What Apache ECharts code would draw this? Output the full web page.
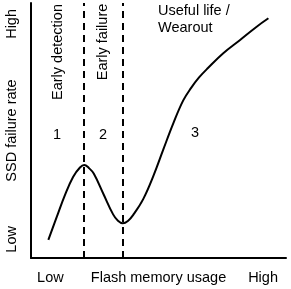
<!DOCTYPE html>
<html>
<head>
<meta charset="utf-8">
<script src="https://cdn.jsdelivr.net/npm/echarts@6/dist/echarts.min.js"></script>
<style>
html,body{margin:0;padding:0;background:#fff;}
#chart{width:291px;height:289px;}
</style>
</head>
<body>
<div id="chart"></div>
<script>
// Data (normalised 0-100 on both axes)
const usage = [6.8, 10.1, 13.3, 16.5, 19.2, 20.9, 22.7, 24.6, 28.4, 32.2, 34.1, 36.0, 38.0, 40.1, 44.0, 48.0, 51.9, 55.8, 59.7, 62.8, 65.9, 69.4, 75.4, 82.0, 88.5, 93.1];
const failureRate = [7.1, 16.1, 24.7, 31.8, 35.5, 36.5, 35.3, 33.1, 25.1, 17.1, 14.6, 13.6, 14.5, 16.9, 23.1, 32.2, 42.6, 52.8, 61.8, 66.7, 70.8, 74.5, 80.3, 85.5, 90.7, 94.0];
const phaseBoundaries = [20.5, 36.0];
const xTickValues = [7.6, 91];
const xTickLabels = ['Low', 'High'];
const yTickValues = [7.3, 91.8];
const yTickLabels = ['Low', 'High'];
const xAxisTitle = 'Flash memory usage';
const yAxisTitle = 'SSD failure rate';
const phaseTitles = ['Early detection', 'Early failure', 'Useful life /\nWearout'];
const phaseNumbers = ['1', '2', '3'];

const FONT = '"Liberation Sans", Arial, Helvetica, sans-serif';
const FS = 14.5;

function pick(vals, labels, v) {
  for (let i = 0; i < vals.length; i++) if (Math.abs(vals[i] - v) < 1e-6) return labels[i];
  return '';
}

const chart = echarts.init(document.getElementById('chart'), null, {renderer: 'canvas'});
const option = {
  animation: false,
  backgroundColor: '#fff',
  grid: {left: 31, top: 3, right: 5, bottom: 31, containLabel: false, outerBoundsMode: 'none'},
  xAxis: {
    type: 'value', min: 0, max: 100,
    axisLine: {show: true, lineStyle: {color: '#000', width: 2}},
    axisTick: {show: false},
    splitLine: {show: false},
    axisLabel: {
      customValues: xTickValues,
      formatter: v => pick(xTickValues, xTickLabels, v),
      color: '#000', fontFamily: FONT, fontSize: FS, margin: 12
    },
    name: xAxisTitle, nameLocation: 'middle', nameGap: 12, nameMoveOverlap: false,
    nameTextStyle: {color: '#000', fontFamily: FONT, fontSize: FS, verticalAlign: 'top'}
  },
  yAxis: {
    type: 'value', min: 0, max: 100,
    axisLine: {show: true, lineStyle: {color: '#000', width: 2}},
    axisTick: {show: false},
    splitLine: {show: false},
    axisLabel: {
      customValues: yTickValues,
      formatter: v => pick(yTickValues, yTickLabels, v),
      rotate: 90,
      color: '#000', fontFamily: FONT, fontSize: FS, margin: 12
    },
    name: yAxisTitle, nameLocation: 'middle', nameGap: 12, nameRotate: 90, nameMoveOverlap: false,
    nameTextStyle: {color: '#000', fontFamily: FONT, fontSize: FS, verticalAlign: 'bottom'}
  },
  series: [{
    type: 'line',
    data: usage.map((x, i) => [x, failureRate[i]]),
    smooth: 0.4,
    symbol: 'none',
    lineStyle: {color: '#000', width: 2},
    markLine: {
      silent: true,
      symbol: 'none',
      label: {show: false},
      lineStyle: {color: '#000', width: 2, type: [7, 5]},
      data: phaseBoundaries.map(v => ({xAxis: v}))
    }
  }]
};
chart.setOption(option);

const txt = {fill: '#000', fontFamily: FONT, fontSize: FS};
chart.setOption({
  graphic: [
    {type: 'text', x: 57.5, y: 52, rotation: Math.PI / 2,
     style: Object.assign({text: phaseTitles[0], align: 'center', verticalAlign: 'middle'}, txt)},
    {type: 'text', x: 102.5, y: 42, rotation: Math.PI / 2,
     style: Object.assign({text: phaseTitles[1], align: 'center', verticalAlign: 'middle'}, txt)},
    {type: 'text', x: 158, y: 2,
     style: Object.assign({text: phaseTitles[2], align: 'left', verticalAlign: 'top', lineHeight: 17}, txt)},
    {type: 'text', x: 57, y: 135,
     style: Object.assign({text: phaseNumbers[0], align: 'center', verticalAlign: 'middle'}, txt)},
    {type: 'text', x: 103, y: 135,
     style: Object.assign({text: phaseNumbers[1], align: 'center', verticalAlign: 'middle'}, txt)},
    {type: 'text', x: 195, y: 133,
     style: Object.assign({text: phaseNumbers[2], align: 'center', verticalAlign: 'middle'}, txt)}
  ]
});
</script>
</body>
</html>
